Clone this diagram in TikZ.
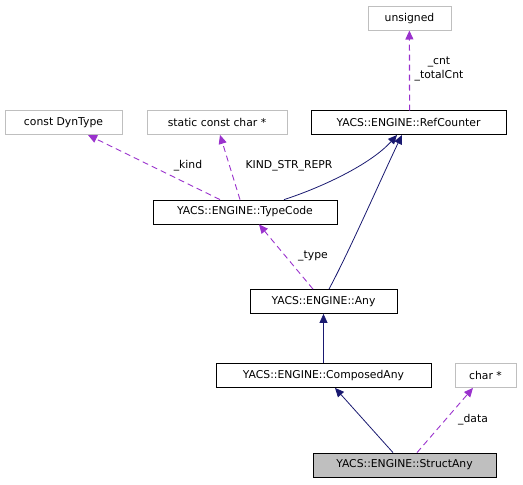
\documentclass[tikz,border=0pt]{standalone}
\usepackage{fontspec}
\setmainfont{DejaVu Sans}
\usetikzlibrary{arrows.meta}
\definecolor{inh}{HTML}{191970}
\definecolor{use}{HTML}{9A32CD}
\definecolor{extb}{HTML}{BFBFBF}
\tikzset{
  cls/.style={draw=black, line width=0.8pt, minimum height=24pt, inner xsep=4pt, font=\fontsize{10.8}{12}\selectfont, fill=white},
  ext/.style={draw=extb, line width=0.8pt, minimum height=24pt, inner xsep=4pt, font=\fontsize{10.8}{12}\selectfont, fill=white},
  cur/.style={cls, fill=extb},
  inhedge/.style={draw=inh, line width=0.8pt, -{Triangle[length=9pt,width=8pt]}},
  useedge/.style={draw=use, line width=0.9pt, dash pattern=on 6pt off 4pt, -{Triangle[length=9pt,width=8pt]}},
  lbl/.style={font=\fontsize{10.8}{13.5}\selectfont, align=center, inner sep=0pt}
}
\begin{document}
\begin{tikzpicture}[x=1pt,y=-1pt]
\useasboundingbox (0,0) rectangle (523,485);
\node[ext, minimum width=83pt] (uns) at (409.5,18.5) {unsigned};
\node[ext, minimum width=117pt] (dyn) at (63.5,122.5) {const DynType};
\node[ext, minimum width=140pt] (scc) at (217,122.5) {static const char *};
\node[cls, minimum width=195pt] (ref) at (408.5,122.5) {YACS::ENGINE::RefCounter};
\node[cls, minimum width=184pt] (tc) at (245,212) {YACS::ENGINE::TypeCode};
\node[cls, minimum width=147pt] (any) at (323.5,301.5) {YACS::ENGINE::Any};
\node[cls, minimum width=215pt] (comp) at (323.5,375.5) {YACS::ENGINE::ComposedAny};
\node[ext, minimum width=61pt] (chr) at (485.5,375.5) {char *};
\node[cur, minimum width=183pt] (sa) at (404.5,465) {YACS::ENGINE::StructAny};

\coordinate (refA) at (397,135);
\coordinate (refB) at (402,135);
\coordinate (refT) at (409.6,110.5);
\coordinate (unsB) at (409.4,30.5);
\draw[useedge, line width=1.1pt] (refT) -- (unsB);
\node[lbl] (lcnt) at (439,69) {\_cnt\\\_totalCnt};

\draw[inhedge] (tc.north -| 284,0) .. controls (320,188) and (370,165) .. (refA);
\draw[inhedge] (any.north -| 329,0) .. controls (350,250) and (385,170) .. (refB);

\draw[useedge] (tc.north -| 220,0) -- (88,135);
\node[lbl] (lkind) at (188,166) {\_kind};
\draw[useedge] (tc.north -| 240,0) -- (scc.south -| 220,0);
\node[lbl] (lksr) at (289,166) {KIND\_STR\_REPR};

\draw[useedge] (any.north -| 313,0) -- (tc.south -| 259,0);
\node[lbl] (ltype) at (313,256) {\_type};

\draw[inhedge] (comp.north) -- (any.south);
\draw[inhedge] (sa.north -| 393,0) -- (comp.south -| 335,0);
\draw[useedge] (sa.north -| 417,0) -- (chr.south -| 473,0);
\node[lbl] (ldata) at (473,420) {\_data};
\end{tikzpicture}
\end{document}
